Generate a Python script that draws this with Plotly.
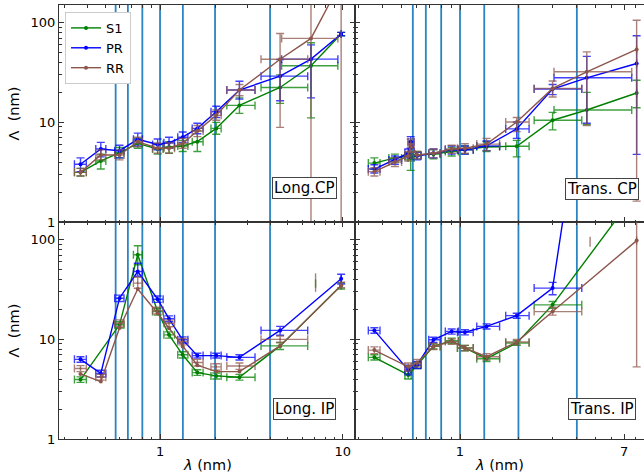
import plotly.graph_objects as go
from plotly.subplots import make_subplots

# ---------------- data ----------------
series_names = ["S1", "PR", "RR"]
series_colors = ["#008000", "#0000ff", "#8c564b"]

# bin centres and horizontal extents
x_long = [0.367, 0.474, 0.600, 0.755, 0.97, 1.12, 1.33, 1.60, 2.03, 2.72, 4.54, 6.70, 9.80]
x_long_lo = [0.340, 0.445, 0.565, 0.715, 0.91, 1.05, 1.25, 1.50, 1.90, 2.32, 3.57, 4.63, 9.80]
x_long_hi = [0.395, 0.505, 0.635, 0.800, 1.04, 1.20, 1.42, 1.72, 2.16, 3.31, 6.43, 9.40, 9.80]

x_trans = [0.362, 0.462, 0.541, 0.557, 0.600, 0.730, 0.906, 1.06, 1.37, 1.96, 3.00, 4.50, 8.13]
x_trans_lo = [0.337, 0.430, 0.520, 0.540, 0.575, 0.690, 0.840, 0.97, 1.22, 1.72, 2.41, 3.05, 8.13]
x_trans_hi = [0.387, 0.500, 0.560, 0.580, 0.630, 0.790, 0.980, 1.17, 1.60, 2.27, 4.24, 7.67, 8.13]

# Long. CP
lcp_s1 = [3.15, 4.1, 4.95, 6.15, 5.4, 5.65, 5.8, 6.4, 8.7, 14.8, 22.4, 37.0, 77.0]
lcp_s1_lo = [2.9, 3.4, 4.4, 5.5, 4.8, 4.9, 5.1, 5.1, 7.6, 12.3, 15.5, 11.1, 74.0]
lcp_s1_hi = [3.45, 4.8, 5.6, 6.9, 6.0, 6.4, 6.6, 8.2, 10.0, 17.6, 30.0, 63.0, 80.0]
lcp_pr = [3.8, 5.4, 5.2, 6.75, 6.0, 6.25, 7.1, 8.7, 12.8, 21.1, 29.1, 43.1, 77.0]
lcp_pr_lo = [3.2, 4.5, 4.4, 5.8, 5.3, 5.5, 6.3, 7.7, 11.2, 17.1, 16.5, 17.6, 74.0]
lcp_pr_hi = [4.4, 6.3, 5.9, 7.8, 6.8, 7.1, 8.0, 9.8, 14.5, 25.9, 42.8, 60.0, 80.0]
lcp_rr = [3.15, 4.7, 4.7, 6.4, 5.5, 5.5, 6.15, 8.2, 11.8, 21.1, 43.0, 69.6, 260.0]
lcp_rr_lo = [2.9, 4.2, 4.2, 5.7, 4.9, 4.9, 5.5, 7.2, 10.5, 18.5, 8.9, 0.1, 0.1]
lcp_rr_hi = [3.45, 5.3, 5.3, 7.1, 6.2, 6.2, 6.9, 9.3, 13.3, 24.0, 78.0, 1000.0, 1000.0]

# Trans. CP
tcp_s1 = [3.9, 4.4, 4.6, 4.4, 4.7, 4.8, 5.1, 5.3, 5.7, 5.75, 10.5, 13.3, 19.7]
tcp_s1_lo = [3.4, 4.0, 4.2, 3.3, 4.3, 4.3, 4.6, 4.8, 5.1, 4.5, 8.4, 9.5, 14.0]
tcp_s1_hi = [4.4, 4.8, 5.0, 4.8, 5.1, 5.3, 5.6, 5.8, 6.4, 6.6, 12.6, 20.0, 26.5]
tcp_pr = [3.4, 4.2, 4.9, 6.4, 4.6, 4.9, 5.3, 5.3, 5.8, 8.6, 21.6, 28.0, 39.0]
tcp_pr_lo = [3.1, 3.8, 4.4, 5.5, 4.2, 4.4, 4.8, 4.8, 5.2, 6.9, 19.0, 9.8, 4.77]
tcp_pr_hi = [3.75, 4.6, 5.4, 7.2, 5.0, 5.4, 5.8, 5.8, 6.5, 10.1, 24.0, 46.0, 74.0]
tcp_rr = [3.2, 4.0, 4.6, 6.0, 4.7, 4.9, 5.4, 5.5, 6.05, 10.1, 21.9, 32.2, 54.0]
tcp_rr_lo = [2.9, 3.6, 4.1, 5.0, 4.3, 4.4, 4.9, 4.9, 5.2, 8.07, 18.0, 9.3, 1.62]
tcp_rr_hi = [3.5, 4.4, 5.1, 6.8, 5.1, 5.4, 5.9, 6.1, 6.9, 11.2, 26.0, 51.0, 106.0]

# Long. IP
lip_s1 = [3.95, None, 14.0, 70.6, 19.0, 11.1, 7.0, 4.64, 4.3, 4.17, 8.6, None, 34.7]
lip_s1_lo = [3.7, None, 13.0, 56.0, 17.5, 10.3, 6.5, 4.35, 4.0, 3.9, 7.9, None, 32.0]
lip_s1_hi = [4.2, None, 15.0, 87.0, 20.5, 11.9, 7.5, 4.95, 4.6, 4.45, 9.3, None, 37.0]
lip_pr = [6.3, 4.55, 25.9, 48.0, 25.3, 16.1, 9.9, 6.87, 6.87, 6.6, 12.3, None, 40.5]
lip_pr_lo = [5.9, 4.2, 24.0, 43.0, 23.5, 15.0, 9.2, 6.5, 6.5, 6.2, 11.0, None, 36.0]
lip_pr_hi = [6.7, 4.9, 27.8, 58.0, 27.2, 17.2, 10.6, 7.25, 7.25, 7.0, 13.5, None, 45.0]
lip_rr_line = [4.5, 3.77, 13.0, 32.0, 18.3, 12.9, 8.5, 5.5, 4.75, 4.75, 8.6, None, 34.7]
lip_rr = [5.1, 4.17, 14.5, 36.7, 19.5, 14.5, 9.5, 5.85, 5.3, 5.4, 10.0, None, 35.0]
lip_rr_lo = [4.75, 3.9, 13.3, 32.6, 18.0, 13.4, 8.8, 5.4, 4.9, 5.0, 9.3, None, 33.0]
lip_rr_hi = [5.45, 4.45, 15.7, 42.0, 21.0, 15.6, 10.2, 6.3, 5.7, 5.8, 10.8, None, 37.5]

# Trans. IP
tip_s1 = [6.6, None, 4.4, None, 5.5, 8.5, 9.7, 8.2, 6.4, 9.2, 22.2, None, 300.0]
tip_s1_lo = [6.2, None, 4.0, None, 5.1, 8.0, 9.1, 7.7, 6.0, 8.7, 20.5, None, 155.0]
tip_s1_hi = [7.0, None, 4.8, None, 5.9, 9.0, 10.3, 8.7, 6.8, 9.7, 24.0, None, 1000.0]
tip_pr = [12.3, None, 4.94, None, 5.55, 9.9, 12.0, 11.8, 13.5, 17.3, 32.7, 6000.0, None]
tip_pr_lo = [11.5, None, 4.4, None, 5.1, 9.3, 11.3, 11.1, 12.7, 16.3, 28.0, 6000.0, None]
tip_pr_hi = [13.1, None, 5.5, None, 6.0, 10.5, 12.7, 12.5, 14.3, 18.3, 37.3, 6000.0, None]
tip_rr = [7.8, None, 5.3, None, 5.8, 8.5, 9.5, 8.2, 6.7, 9.4, 19.0, None, 98.0]
tip_rr_lo = [7.2, None, 4.8, None, 5.3, 7.9, 8.9, 7.7, 6.2, 8.8, 17.5, None, 5.3]
tip_rr_hi = [8.4, None, 5.8, None, 6.3, 9.1, 10.1, 8.7, 7.2, 10.0, 21.0, None, 1000.0]

# isolated error bars without a plotted point
lip_orphan_x = [7.1]
lip_orphan_s1 = [(33.0, 40.0)]
lip_orphan_rr = [(30.0, 46.0)]
tip_orphan_x = [4.68]
tip_orphan_rr = [(85.0, 107.0)]

# vertical reference lines: 4/n nm
ref_lines = [4.0 / n for n in range(1, 8)]

panel_labels = ["Long.CP", "Trans. CP", "Long. IP", "Trans. IP"]

# ---------------- figure ----------------
FONT = "DejaVu Sans"
fig = make_subplots(rows=2, cols=2, horizontal_spacing=0, vertical_spacing=0,
                    column_widths=[296, 289])


def errs(c, lo, hi):
    plus, minus = [], []
    for v, l, h in zip(c, lo, hi):
        if v is None or l is None:
            plus.append(None)
            minus.append(None)
        else:
            plus.append(h - v)
            minus.append(v - l)
    return plus, minus


def rgba(hexc, a):
    h = hexc.lstrip("#")
    return "rgba(%d,%d,%d,%.2f)" % (int(h[0:2], 16), int(h[2:4], 16), int(h[4:6], 16), a)


def add_series(row, col, x, xlo, xhi, y, ylo, yhi, idx, showlegend, line_y=None):
    color = series_colors[idx]
    exp, exm = errs(x, xlo, xhi)
    eyp, eym = errs(y, ylo, yhi)
    exp = [e if yv is not None else None for e, yv in zip(exp, y)]
    exm = [e if yv is not None else None for e, yv in zip(exm, y)]
    ecol = rgba(color, 0.75)
    if line_y is None:
        fig.add_trace(go.Scatter(
            x=x, y=y, mode="lines+markers", name=series_names[idx],
            legendgroup=series_names[idx], showlegend=showlegend, connectgaps=True,
            line=dict(color=color, width=1.4), marker=dict(color=color, size=4),
            error_x=dict(type="data", symmetric=False, array=exp, arrayminus=exm,
                         color=ecol, thickness=1.4, width=4),
            error_y=dict(type="data", symmetric=False, array=eyp, arrayminus=eym,
                         color=ecol, thickness=1.4, width=4),
        ), row=row, col=col)
    else:
        fig.add_trace(go.Scatter(
            x=x, y=y, mode="markers", name=series_names[idx],
            legendgroup=series_names[idx], showlegend=False,
            marker=dict(color=ecol, size=2),
            error_x=dict(type="data", symmetric=False, array=exp, arrayminus=exm,
                         color=ecol, thickness=1.4, width=4),
            error_y=dict(type="data", symmetric=False, array=eyp, arrayminus=eym,
                         color=ecol, thickness=1.4, width=4),
        ), row=row, col=col)
        fig.add_trace(go.Scatter(
            x=x, y=line_y, mode="lines+markers", name=series_names[idx],
            legendgroup=series_names[idx], showlegend=showlegend, connectgaps=True,
            line=dict(color=color, width=1.4), marker=dict(color=color, size=4),
        ), row=row, col=col)


def add_orphan(row, col, xs, bounds, idx):
    color = series_colors[idx]
    ys = [(lo * hi) ** 0.5 for lo, hi in bounds]
    plus = [hi - yv for (lo, hi), yv in zip(bounds, ys)]
    minus = [yv - lo for (lo, hi), yv in zip(bounds, ys)]
    fig.add_trace(go.Scatter(
        x=xs, y=ys, mode="markers", showlegend=False,
        marker=dict(size=1, color="rgba(0,0,0,0)"),
        error_y=dict(type="data", symmetric=False, array=plus, arrayminus=minus,
                     color=rgba(color, 0.75), thickness=1.4, width=0),
    ), row=row, col=col)


# Long CP (top-left)
add_series(1, 1, x_long, x_long_lo, x_long_hi, lcp_s1, lcp_s1_lo, lcp_s1_hi, 0, True)
add_series(1, 1, x_long, x_long_lo, x_long_hi, lcp_pr, lcp_pr_lo, lcp_pr_hi, 1, True)
add_series(1, 1, x_long, x_long_lo, x_long_hi, lcp_rr, lcp_rr_lo, lcp_rr_hi, 2, True)
# Trans CP (top-right)
add_series(1, 2, x_trans, x_trans_lo, x_trans_hi, tcp_s1, tcp_s1_lo, tcp_s1_hi, 0, False)
add_series(1, 2, x_trans, x_trans_lo, x_trans_hi, tcp_pr, tcp_pr_lo, tcp_pr_hi, 1, False)
add_series(1, 2, x_trans, x_trans_lo, x_trans_hi, tcp_rr, tcp_rr_lo, tcp_rr_hi, 2, False)
# Long IP (bottom-left)
add_series(2, 1, x_long, x_long_lo, x_long_hi, lip_s1, lip_s1_lo, lip_s1_hi, 0, False)
add_series(2, 1, x_long, x_long_lo, x_long_hi, lip_pr, lip_pr_lo, lip_pr_hi, 1, False)
add_series(2, 1, x_long, x_long_lo, x_long_hi, lip_rr, lip_rr_lo, lip_rr_hi, 2, False, line_y=lip_rr_line)
add_orphan(2, 1, lip_orphan_x, lip_orphan_s1, 0)
add_orphan(2, 1, lip_orphan_x, lip_orphan_rr, 2)
# Trans IP (bottom-right)
add_series(2, 2, x_trans, x_trans_lo, x_trans_hi, tip_s1, tip_s1_lo, tip_s1_hi, 0, False)
add_series(2, 2, x_trans, x_trans_lo, x_trans_hi, tip_pr, tip_pr_lo, tip_pr_hi, 1, False)
add_series(2, 2, x_trans, x_trans_lo, x_trans_hi, tip_rr, tip_rr_lo, tip_rr_hi, 2, False)
add_orphan(2, 2, tip_orphan_x, tip_orphan_rr, 2)

# vertical reference lines
for xa in ["x", "x2", "x3", "x4"]:
    ya = "y" + xa[1:]
    for v in ref_lines:
        fig.add_shape(type="line", xref=xa, yref=ya + " domain", x0=v, x1=v, y0=0, y1=1,
                      line=dict(color="#2a84c2", width=1.8), layer="below")

# axes
AX = "#333333"
minor_y = [m * 10 ** d for d in range(0, 3) for m in range(2, 10)]
minor_x = [m * 10 ** d for d in range(-1, 2) for m in range(2, 10)]
tick_font = dict(family=FONT, size=13, color="black")

common = dict(type="log", showgrid=False, zeroline=False, showline=True, linecolor=AX,
              linewidth=1, ticks="inside", ticklen=5, tickcolor=AX, tickfont=tick_font,
              tickmode="array")
minor_common = dict(ticks="inside", ticklen=2.5, tickcolor=AX, showgrid=False)

for r in (1, 2):
    fig.update_xaxes(common, range=[-0.553, 1.067], tickvals=[1, 10], ticktext=["1", "10"],
                     minor=dict(minor_common, tickvals=minor_x), mirror="ticks",
                     showticklabels=(r == 2), row=r, col=1)
    fig.update_xaxes(common, range=[-0.541, 0.948], tickvals=[1, 7], ticktext=["1", "7"],
                     minor=dict(minor_common, tickvals=minor_x), mirror="ticks",
                     showticklabels=(r == 2), row=r, col=2)
    fig.update_yaxes(common, range=[0, 2.178], tickvals=[1, 10, 100], ticktext=["1", "10", "100"],
                     minor=dict(minor_common, tickvals=minor_y), mirror="ticks",
                     showticklabels=True, row=r, col=1)
    fig.update_yaxes(common, range=[0, 2.178], tickvals=[1, 10, 100], ticktext=["1", "10", "100"],
                     minor=dict(minor_common, tickvals=minor_y), mirror=False,
                     showticklabels=False, row=r, col=2)

# panel labels
label_pos = [("x", "y", 0.829, 0.157), ("x2", "y2", 0.855, 0.152),
             ("x3", "y3", 0.829, 0.14), ("x4", "y4", 0.856, 0.14)]
for txt, (xa, ya, px, py) in zip(panel_labels, label_pos):
    fig.add_annotation(text=txt, xref=xa + " domain", yref=ya + " domain", x=px, y=py,
                       xanchor="center", yanchor="middle",
                       showarrow=False, font=dict(family=FONT, size=15, color="black"),
                       bgcolor="white", bordercolor="#444444", borderwidth=1, borderpad=1)

# axis titles
for ya in ("y", "y3"):
    fig.add_annotation(text="Λ  (nm)", xref="paper", yref=ya + " domain", x=-0.077, y=0.5,
                       textangle=-90, showarrow=False, xanchor="center", yanchor="middle",
                       font=dict(family=FONT, size=14.5, color="black"))
for xa in ("x3", "x4"):
    fig.add_annotation(text="<i>λ</i> (nm)", xref=xa + " domain", yref="paper", x=0.5, y=-0.06,
                       showarrow=False, xanchor="center", yanchor="middle",
                       font=dict(family=FONT, size=14.5, color="black"))

fig.update_layout(
    width=644, height=476,
    margin=dict(l=59, r=0, t=5, b=37),
    paper_bgcolor="white", plot_bgcolor="white",
    font=dict(family=FONT, size=13, color="black"),
    legend=dict(x=0.0103, y=0.984, xanchor="left", yanchor="top", bgcolor="white",
                bordercolor="#cccccc", borderwidth=1, font=dict(family=FONT, size=13),
                tracegroupgap=0, itemwidth=30),
    showlegend=True,
)

fig.write_html("out.html")
